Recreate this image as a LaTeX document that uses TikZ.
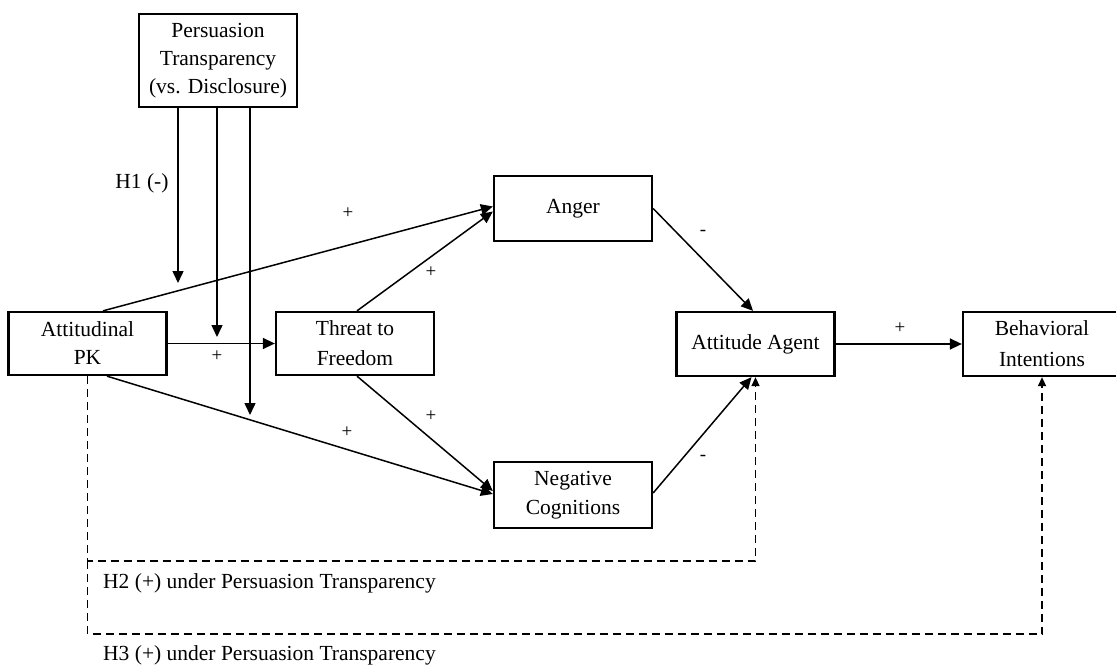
\documentclass[tikz,border=0pt]{standalone}
\usepackage{fontspec}
\setmainfont{Liberation Serif}
\usetikzlibrary{arrows.meta}
\begin{document}
\begin{tikzpicture}[x=1pt,y=-1pt,
  box/.style={draw,line width=2.3pt,rectangle,inner sep=0pt,align=center,
    minimum width=158pt,font=\fontsize{21.5}{28}\selectfont},
  arr/.style={line width=1.5pt,-{Triangle[length=12pt,width=11pt]}},
  dasharr/.style={line width=1.5pt,dash pattern=on 8pt off 5pt,
    -{Triangle[length=9pt,width=8pt]}},
  sign/.style={font=\fontsize{19}{22}\selectfont,inner sep=0pt},
  lbl/.style={font=\fontsize{21.5}{26}\selectfont,inner sep=0pt}]
\useasboundingbox (0,0) rectangle (1116,666);

% variables
\node[box,minimum height=93pt] (pers) at (218,60.5) {Persuasion\\Transparency\\(vs. Disclosure)\rule[-4pt]{0pt}{0pt}};
\node[box,minimum height=63pt] (pk) at (87.5,343.5) {Attitudinal\\PK};
\node[box,minimum height=63pt,font=\fontsize{21.5}{30}\selectfont] (thr) at (355,343.5) {Threat to\\Freedom};
\node[box,minimum height=65pt] (anger) at (573,208.5) {Anger};
\node[box,minimum height=66pt,font=\fontsize{21.5}{29}\selectfont] (neg) at (573,495) {Negative\\Cognitions};
\node[box,minimum height=64pt] (agent) at (755.5,344) {Attitude Agent};
\node[box,minimum height=64pt,font=\fontsize{21.5}{31}\selectfont] (beh) at (1042,344) {Behavioral\\Intentions};

% moderation arrows from the transparency manipulation
\coordinate (m1) at (178,283);
\coordinate (m2) at (217,337);
\coordinate (m3) at (250,415);
\draw[arr] (pers.south -| m1) -- (m1);
\draw[arr] (pers.south -| m2) -- (m2);
\draw[arr] (pers.south -| m3) -- (m3);
\node[lbl] (h1) at (142,183) {H1 (-)};

% direct paths
\draw[arr] ([xshift=15.5pt]pk.north) -- ([yshift=2pt]anger.west);
\draw[arr] ([xshift=2pt]thr.north) -- ([yshift=-3pt]anger.west);
\draw[arr] (pk.east) -- (thr.west);
\draw[arr] ([xshift=19.5pt]pk.south) -- ([yshift=1pt]neg.west);
\draw[arr] ([xshift=2pt]thr.south) -- ([yshift=4pt]neg.west);
\draw[arr] (anger.east) -- ([xshift=-2.5pt]agent.north);
\draw[arr] ([yshift=2pt]neg.east) -- ([xshift=-4pt]agent.south);
\draw[arr] (agent.east) -- (beh.west);

% path signs
\node[sign] (s1) at (348,213) {+};
\node[sign] (s2) at (431,272) {+};
\node[sign] (s3) at (217,356) {+};
\node[sign] (s4) at (347,432) {+};
\node[sign] (s5) at (431,416) {+};
\node[sign] (s6) at (703,233) {-};
\node[sign] (s7) at (703,458) {-};
\node[sign] (s8) at (900,328) {+};

% conditional effects (dashed)
\coordinate (c2) at (87.5,561);
\coordinate (c3) at (87.5,634);
\draw[dasharr] (pk.south) -- (c2) -| (agent.south);
\draw[dasharr] (c2) -- (c3) -| (beh.south);
\node[lbl,anchor=west] (h2) at (103,583) {H2 (+) under Persuasion Transparency};
\node[lbl,anchor=west] (h3) at (103,655) {H3 (+) under Persuasion Transparency};
\end{tikzpicture}
\end{document}
